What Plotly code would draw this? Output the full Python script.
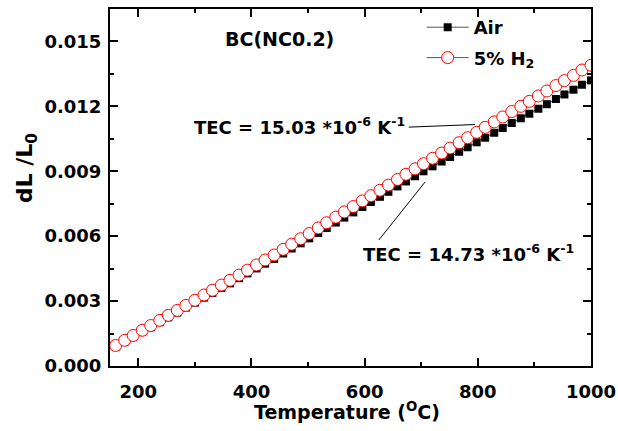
import plotly.graph_objects as go

# Temperature (°C)
temperature = [160, 176, 191, 207, 222, 238, 253, 269, 284, 300, 316, 331, 347, 362, 378,
               393, 409, 424, 440, 456, 471, 487, 502, 518, 533, 549, 564, 580, 596, 611,
               627, 642, 658, 673, 689, 704, 720, 736, 751, 767, 782, 798, 813, 829, 844,
               860, 876, 891, 907, 922, 938, 953, 969, 984, 1000]

# dL/L0 in 5% H2
h2_values = [0.00095, 0.00119, 0.00141, 0.00165, 0.00187, 0.00211, 0.00234, 0.00257, 0.00280,
             0.00304, 0.00328, 0.00350, 0.00374, 0.00396, 0.00420, 0.00443, 0.00467, 0.00490,
             0.00513, 0.00539, 0.00563, 0.00588, 0.00612, 0.00638, 0.00662, 0.00688, 0.00712,
             0.00737, 0.00763, 0.00787, 0.00812, 0.00836, 0.00862, 0.00886, 0.00911, 0.00935,
             0.00960, 0.00984, 0.01007, 0.01032, 0.01055, 0.01080, 0.01103, 0.01128, 0.01151,
             0.01176, 0.01200, 0.01223, 0.01248, 0.01271, 0.01296, 0.01319, 0.01343, 0.01368,
             0.01390]

# dL/L0 in air
air_values = [0.00090, 0.00113, 0.00135, 0.00158, 0.00179, 0.00203, 0.00225, 0.00247, 0.00270,
              0.00293, 0.00316, 0.00338, 0.00361, 0.00382, 0.00406, 0.00428, 0.00451, 0.00473,
              0.00495, 0.00520, 0.00543, 0.00567, 0.00590, 0.00615, 0.00638, 0.00663, 0.00686,
              0.00710, 0.00735, 0.00758, 0.00782, 0.00805, 0.00830, 0.00853, 0.00877, 0.00900,
              0.00923, 0.00945, 0.00966, 0.00990, 0.01011, 0.01034, 0.01055, 0.01078, 0.01100,
              0.01123, 0.01145, 0.01166, 0.01189, 0.01210, 0.01234, 0.01255, 0.01277, 0.01300,
              0.01320]

x_ticks = [200, 400, 600, 800, 1000]
y_ticks = [0.000, 0.003, 0.006, 0.009, 0.012, 0.015]
y_tick_labels = ["0.000", "0.003", "0.006", "0.009", "0.012", "0.015"]

FONT = "DejaVu Sans, Liberation Sans, Arial, sans-serif"

fig = go.Figure()
fig.add_trace(go.Scatter(
    x=temperature, y=air_values, name="<b>Air</b>", mode="lines+markers",
    legendgroup="air",
    line=dict(color="#555555", width=1),
    marker=dict(symbol="square", size=8, color="black", line=dict(width=0)),
))
fig.add_trace(go.Scatter(
    x=temperature, y=h2_values, name="<b>5% H<sub>2</sub></b>", mode="lines+markers",
    legendgroup="h2",
    line=dict(color="#555555", width=1),
    marker=dict(symbol="circle", size=12, color="white", line=dict(color="red", width=1)),
))

axis_common = dict(
    showline=True, linecolor="black", linewidth=2, mirror="allticks",
    ticks="inside", ticklen=8, tickwidth=2, tickcolor="black",
    showgrid=False, zeroline=False, automargin=False,
    tickfont=dict(family=FONT, size=18, color="black", weight="bold"),
)

fig.update_xaxes(range=[150, 1000], tickvals=x_ticks, ticklabelstandoff=8,
                 minor=dict(ticks="inside", ticklen=4, tickwidth=2, dtick=100, tick0=200,
                            tickcolor="black"),
                 **axis_common)
fig.update_yaxes(range=[0, 0.0165], tickvals=y_ticks, ticktext=y_tick_labels,
                 ticklabelstandoff=3,
                 minor=dict(ticks="inside", ticklen=4, tickwidth=2, dtick=0.0015, tick0=0,
                            tickcolor="black"),
                 **axis_common)

fig.add_annotation(x=450, y=0.01512, xref="x", yref="y", text="<b>BC(NC0.2)</b>",
                   showarrow=False, font=dict(family=FONT, size=19, color="black"))
fig.add_annotation(x=484, y=0.0111, xref="x", yref="y",
                   text="<b>TEC = 15.03 *10<sup>-6</sup> K<sup>-1</sup></b>",
                   showarrow=False, font=dict(family=FONT, size=18, color="black"))
fig.add_annotation(x=783, y=0.00522, xref="x", yref="y",
                   text="<b>TEC = 14.73 *10<sup>-6</sup> K<sup>-1</sup></b>",
                   showarrow=False, font=dict(family=FONT, size=18, color="black"))

fig.add_shape(type="line", x0=678, y0=0.01104, x1=795, y1=0.01116, xref="x", yref="y",
              line=dict(color="black", width=1))
fig.add_shape(type="line", x0=625, y0=0.00582, x1=707, y1=0.00851, xref="x", yref="y",
              line=dict(color="black", width=1))

fig.add_annotation(x=-0.172, y=0.555, xref="paper", yref="paper", textangle=-90,
                   xanchor="center", yanchor="middle",
                   text="<b>dL /L<sub>0</sub></b>", showarrow=False,
                   font=dict(family=FONT, size=22, color="black"))
fig.add_annotation(x=0.493, y=-0.125, xref="paper", yref="paper",
                   xanchor="center", yanchor="middle",
                   text="<b>Temperature (<sup>O</sup>C)</b>", showarrow=False,
                   font=dict(family=FONT, size=19, color="black"))

fig.update_layout(
    width=618, height=431,
    margin=dict(l=110, r=27, t=9, b=65),
    paper_bgcolor="white", plot_bgcolor="white",
    showlegend=True,
    legend=dict(x=0.648, y=1.0, xanchor="left", yanchor="top",
                bgcolor="rgba(0,0,0,0)", borderwidth=0,
                font=dict(family=FONT, size=18, color="black"),
                itemwidth=42,
                traceorder="grouped", tracegroupgap=4),
)

fig.write_html("out.html",
               config={"displayModeBar": False},
               post_script=("document.documentElement.style.overflow='hidden';"
                            "document.body.style.overflow='hidden';"
                            "document.body.style.margin='0';"
                            "document.body.style.padding='0';"
                            "window.scrollTo(0,0);"))
